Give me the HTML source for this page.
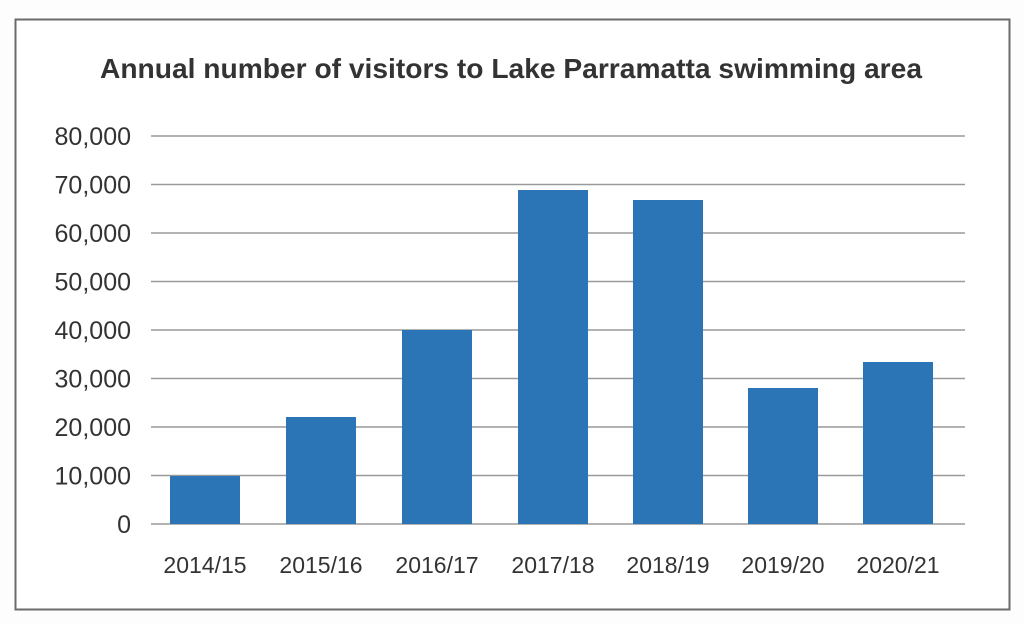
<!DOCTYPE html>
<html><head><style>body{margin:0;background:#fff}</style></head><body>
<svg width="1024" height="625" xmlns="http://www.w3.org/2000/svg" font-family="Liberation Sans, sans-serif">
<rect width="1024" height="625" fill="#fdfdfd"/>
<rect x="15.5" y="19.5" width="994" height="590" fill="#fff" stroke="#6b6b6b" stroke-width="2"/>
<text x="511" y="78" text-anchor="middle" font-size="28" font-weight="bold" fill="#333" textLength="822" lengthAdjust="spacingAndGlyphs">Annual number of visitors to Lake Parramatta swimming area</text>
<g stroke="#9a9a9a" stroke-width="1.5">
<line x1="151" x2="965" y1="136" y2="136"/><line x1="151" x2="965" y1="184.5" y2="184.5"/>
<line x1="151" x2="965" y1="233" y2="233"/><line x1="151" x2="965" y1="281.5" y2="281.5"/>
<line x1="151" x2="965" y1="330" y2="330"/><line x1="151" x2="965" y1="378.5" y2="378.5"/>
<line x1="151" x2="965" y1="427" y2="427"/><line x1="151" x2="965" y1="475.5" y2="475.5"/>
<line x1="151" x2="965" y1="524" y2="524"/>
</g>
<g font-size="25" fill="#333" text-anchor="end">
<text x="131" y="145">80,000</text><text x="131" y="193.5">70,000</text><text x="131" y="242">60,000</text>
<text x="131" y="290.5">50,000</text><text x="131" y="339">40,000</text><text x="131" y="387.5">30,000</text>
<text x="131" y="436">20,000</text><text x="131" y="484.5">10,000</text><text x="131" y="533">0</text>
</g>
<g fill="#2b74b5">
<rect x="170" y="476" width="70" height="48"/>
<rect x="286" y="417" width="70" height="107"/>
<rect x="402" y="330" width="70" height="194"/>
<rect x="518" y="190" width="70" height="334"/>
<rect x="633" y="200" width="70" height="324"/>
<rect x="748" y="388" width="70" height="136"/>
<rect x="863" y="362" width="70" height="162"/>
</g>
<g font-size="23" fill="#333" text-anchor="middle">
<text x="205" y="573">2014/15</text><text x="321" y="573">2015/16</text><text x="437" y="573">2016/17</text>
<text x="553" y="573">2017/18</text><text x="668" y="573">2018/19</text><text x="783" y="573">2019/20</text>
<text x="898" y="573">2020/21</text>
</g>
</svg>
</body></html>
